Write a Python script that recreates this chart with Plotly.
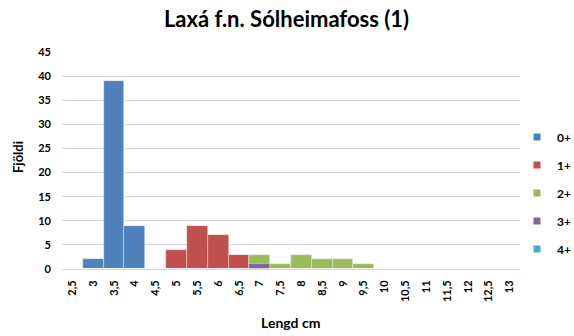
import plotly.graph_objects as go

# Length classes (cm) on the category axis
lengths = ["2,5", "3", "3,5", "4", "4,5", "5", "5,5", "6", "6,5", "7", "7,5",
           "8", "8,5", "9", "9,5", "10", "10,5", "11", "11,5", "12", "12,5", "13"]

# Counts per age group for each length class
age_0 = [0, 2, 39, 9, 0, 0, 0, 0, 0, 0, 0, 0, 0, 0, 0, 0, 0, 0, 0, 0, 0, 0]
age_1 = [0, 0, 0, 0, 0, 4, 9, 7, 3, 0, 0, 0, 0, 0, 0, 0, 0, 0, 0, 0, 0, 0]
age_2 = [0, 0, 0, 0, 0, 0, 0, 0, 0, 3, 1, 3, 2, 2, 1, 0, 0, 0, 0, 0, 0, 0]
age_3 = [0, 0, 0, 0, 0, 0, 0, 0, 0, 1, 0, 0, 0, 0, 0, 0, 0, 0, 0, 0, 0, 0]
age_4 = [0] * len(lengths)

series = [
    ("0+", age_0, "#4F81BD"),
    ("1+", age_1, "#C0504D"),
    ("2+", age_2, "#9BBB59"),
    ("3+", age_3, "#8064A2"),
    ("4+", age_4, "#4BACC6"),
]

FONT = "Lato, 'Open Sans', sans-serif"

# plot area in pixels
W, H = 574, 336
L, R, T, B = 62, 54, 52, 67
PW, PH = W - L - R, H - T - B

fig = go.Figure()
for name, vals, color in series:
    fig.add_trace(go.Bar(
        x=lengths, y=vals, name=name, legendgroup=name, showlegend=False,
        marker=dict(color=color, line=dict(color="rgba(255,255,255,0.6)", width=0.6)),
    ))
# small square legend keys
for name, vals, color in series:
    fig.add_trace(go.Scatter(
        x=[None], y=[None], mode="markers", name=name, legendgroup=name,
        marker=dict(symbol="square", size=7, color=color),
    ))

fig.update_layout(
    width=W, height=H,
    barmode="overlay", bargap=0,
    paper_bgcolor="white", plot_bgcolor="white",
    margin=dict(l=L, r=R, t=T, b=B, autoexpand=False),
    font=dict(family=FONT, size=11, color="black"),
    title=dict(text="Laxá f.n. Sólheimafoss (1)", x=(286.5 - L) / PW, xref="paper",
               y=1 - 19 / H, yref="container", xanchor="center", yanchor="middle",
               font=dict(size=22, family=FONT, weight="bold")),
    legend=dict(x=(517 - L) / PW, xref="paper", xanchor="left",
                y=(269 - 193) / PH, yanchor="middle",
                font=dict(size=12, family=FONT, weight="bold"), tracegroupgap=9,
                itemwidth=30, bgcolor="rgba(0,0,0,0)"),
    xaxis=dict(type="category", tickangle=-90, showgrid=False,
               showline=True, linecolor="#d9d9d9", linewidth=1,
               ticks="", ticklabelstandoff=6,
               tickfont=dict(size=11, family=FONT, weight="bold")),
    yaxis=dict(range=[0, 45], dtick=5, showgrid=True, gridcolor="#d9d9d9",
               gridwidth=1, zeroline=False, ticks="", ticklabelstandoff=10,
               tickfont=dict(size=11, family=FONT, weight="bold")),
    annotations=[
        dict(text="<b>Lengd cm</b>", x=(290 - L) / PW, xref="paper",
             xanchor="center", y=-(322 - 269) / PH, yref="paper",
             yanchor="middle", showarrow=False, font=dict(size=14)),
        dict(text="<b>Fjöldi</b>", x=-(L - 18) / PW, xref="paper",
             xanchor="center", y=(269 - 157) / PH, yref="paper",
             yanchor="middle", textangle=-90, showarrow=False,
             font=dict(size=13)),
    ],
)

fig.write_html("out.html")
